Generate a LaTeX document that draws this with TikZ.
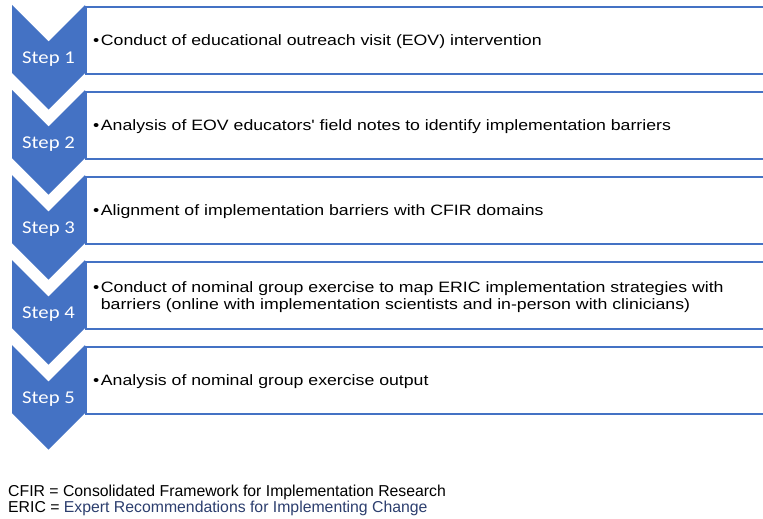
\documentclass[tikz,border=0pt]{standalone}
\usepackage{fontspec}
\setmainfont{Liberation Sans}
\newfontfamily\itemfont[FakeStretch=1.18]{Liberation Sans}
\newfontfamily\stepfont[FakeStretch=1.15]{Carlito}
\usepackage{tikz}
\definecolor{stepblue}{RGB}{68,114,196}
\definecolor{notenavy}{RGB}{44,62,110}
\tikzstyle{chevron} = [fill=stepblue]
\tikzstyle{steplabel} = [text=white, font=\stepfont\fontsize{18}{18}\selectfont]
\tikzstyle{block} = [rectangle, draw=stepblue, line width=1.8pt, fill=white,
minimum width=700pt, minimum height=67pt, anchor=north west, inner sep=0pt]
\tikzstyle{item} = [anchor=west, align=left, inner sep=0pt,
font=\itemfont\fontsize{15}{17}\selectfont]
\tikzstyle{note} = [anchor=north west, align=left, inner sep=0pt,
font=\fontsize{15.8}{16}\selectfont]
\newcommand{\bul}{\textbullet\hspace{1.5pt}}

\begin{document}
\begin{tikzpicture}[x=1pt, y=-1pt]
    \clip (0,0) rectangle (763,519);
    % Place boxes
    \node [block] (box1) at (85,6) {};
    \node [block] (box2) at (85,91) {};
    \node [block] (box3) at (85,176) {};
    \node [block] (box4) at (85,261) {};
    \node [block] (box5) at (85,346) {};

    % Draw chevrons
    \fill [chevron] (12,5) -- (48.5,41.5) -- (85,5) -- (85,73) -- (48.5,109.5) -- (12,73) -- cycle;
    \fill [chevron] (12,90) -- (48.5,126.5) -- (85,90) -- (85,158) -- (48.5,194.5) -- (12,158) -- cycle;
    \fill [chevron] (12,175) -- (48.5,211.5) -- (85,175) -- (85,243) -- (48.5,279.5) -- (12,243) -- cycle;
    \fill [chevron] (12,260) -- (48.5,296.5) -- (85,260) -- (85,328) -- (48.5,364.5) -- (12,328) -- cycle;
    \fill [chevron] (12,345) -- (48.5,381.5) -- (85,345) -- (85,413) -- (48.5,449.5) -- (12,413) -- cycle;

    % Step labels
    \node [steplabel] (step1) at (48.5,59) {Step 1};
    \node [steplabel] (step2) at (48.5,144) {Step 2};
    \node [steplabel] (step3) at (48.5,229) {Step 3};
    \node [steplabel] (step4) at (48.5,314) {Step 4};
    \node [steplabel] (step5) at (48.5,399) {Step 5};

    % Box texts
    \node [item] (item1) at (93,42) {\bul Conduct of educational outreach visit (EOV) intervention};
    \node [item] (item2) at (93,127) {\bul Analysis of EOV educators' field notes to identify implementation barriers};
    \node [item] (item3) at (93,212) {\bul Alignment of implementation barriers with CFIR domains};
    \node [item] (item4) at (93,297) {\bul Conduct of nominal group exercise to map ERIC implementation strategies with\\
    \hphantom{\bul}barriers (online with implementation scientists and in-person with clinicians)};
    \node [item] (item5) at (93,382) {\bul Analysis of nominal group exercise output};

    % Abbreviations
    \node [note] (cfir) at (8,485) {CFIR = Consolidated Framework for Implementation Research\\
    ERIC = \textcolor{notenavy}{Expert Recommendations for Implementing Change}};
\end{tikzpicture}
\end{document}
